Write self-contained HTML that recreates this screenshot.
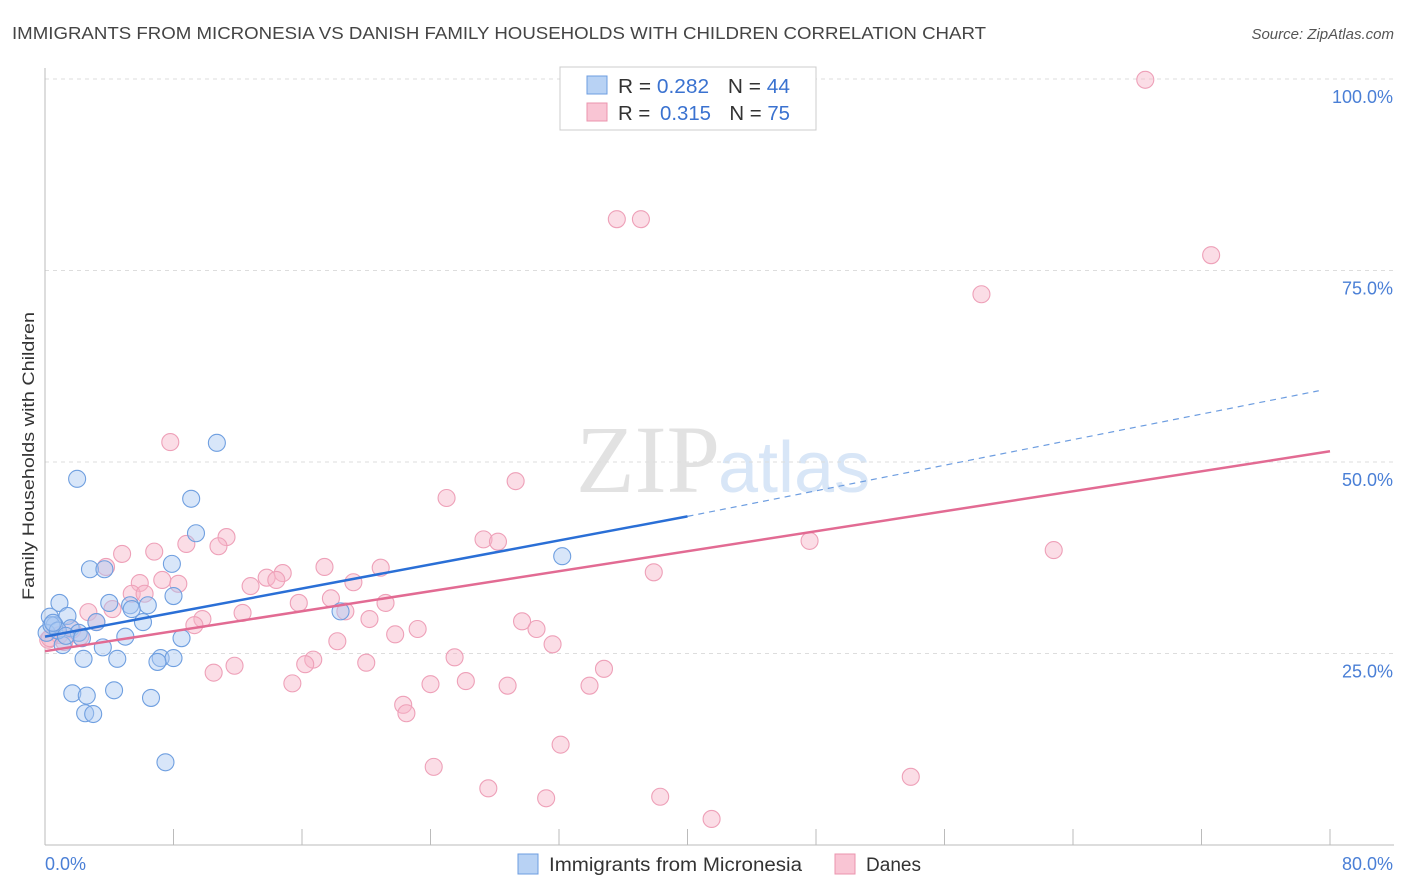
<!DOCTYPE html>
<html><head><meta charset="utf-8"><style>
body{margin:0;background:#fff;font-family:"Liberation Sans",sans-serif;}
svg{display:block}
</style></head><body>
<svg id="c" width="1406" height="892">
<text x="12" y="39" font-size="17.5" fill="#444" textLength="974" lengthAdjust="spacingAndGlyphs">IMMIGRANTS FROM MICRONESIA VS DANISH FAMILY HOUSEHOLDS WITH CHILDREN CORRELATION CHART</text>
<text x="1394" y="39" font-size="15" fill="#555" font-style="italic" text-anchor="end">Source: ZipAtlas.com</text>
<text x="0" y="0" transform="translate(34,456) rotate(-90)" font-size="17" fill="#333" text-anchor="middle" textLength="288" lengthAdjust="spacingAndGlyphs">Family Households with Children</text>
<text x="720" y="492" font-size="96" fill="#e2e2e2" font-family="Liberation Serif,serif" text-anchor="end">ZIP</text>
<text x="718" y="492" font-size="72" fill="#d8e6f7">atlas</text>
<g id="grid"></g><g id="axes"></g><g id="pts"></g><g id="lines"></g>
<g>
<rect x="560" y="67" width="256" height="63" fill="#fff" stroke="#ccc"/>
<rect x="587" y="76" width="20" height="18" fill="#b8d2f4" stroke="#6d9de0"/>
<rect x="587" y="103" width="20" height="18" fill="#f9c5d4" stroke="#eb94ae"/>
<text x="618" y="93" font-size="20" fill="#333" textLength="172" lengthAdjust="spacingAndGlyphs">R = <tspan fill="#3a72d0">0.282</tspan><tspan dx="18">N = </tspan><tspan fill="#3a72d0">44</tspan></text>
<text x="618" y="120" font-size="20" fill="#333" textLength="172" lengthAdjust="spacingAndGlyphs">R = <tspan fill="#3a72d0" dx="4">0.315</tspan><tspan dx="18">N = </tspan><tspan fill="#3a72d0">75</tspan></text>
</g>
<g>
<rect x="518" y="854" width="20" height="20" fill="#b8d2f4" stroke="#6d9de0"/>
<text x="549" y="871" font-size="19" fill="#333" textLength="253" lengthAdjust="spacingAndGlyphs">Immigrants from Micronesia</text>
<rect x="835" y="854" width="20" height="20" fill="#f9c5d4" stroke="#eb94ae"/>
<text x="866" y="871" font-size="19" fill="#333" textLength="55" lengthAdjust="spacingAndGlyphs">Danes</text>
</g>
</svg>
<script>
const blueX=[2.0,10.7,9.1,9.4,2.8,3.7,7.9,8.0,0.9,4.0,5.3,6.4,0.3,1.4,3.2,6.1,0.6,1.6,2.1,0.1,1.1,5.0,8.5,3.6,2.4,4.5,7.2,8.0,7.0,1.7,2.6,4.3,6.6,2.5,3.0,7.5,18.4,32.2,0.4,0.8,1.3,2.3,5.4,0.5];
const blueY=[47.8,52.5,45.2,40.7,36.0,36.0,36.7,32.5,31.6,31.6,31.3,31.3,29.8,29.9,29.1,29.1,28.7,28.3,27.7,27.7,26.1,27.2,27.0,25.8,24.3,24.3,24.4,24.4,23.9,19.8,19.5,20.2,19.2,17.2,17.1,10.8,30.5,37.7,28.7,28.0,27.3,27.0,30.8,29.0];
const pinkX=[68.5,35.6,37.1,72.6,58.3,7.8,25.0,29.3,11.3,8.8,10.8,27.3,28.2,47.6,62.8,4.8,6.8,3.8,17.4,20.9,14.8,13.8,37.9,7.3,5.9,8.3,12.8,14.4,19.2,5.4,6.2,15.8,21.2,17.8,18.7,4.2,2.7,12.3,20.2,29.7,9.8,9.3,3.2,23.2,21.8,30.6,1.7,0.2,18.2,31.6,25.5,16.7,16.2,20.0,11.8,34.8,10.5,15.4,24.0,26.2,28.8,33.9,22.3,22.5,32.1,24.2,53.9,27.6,31.2,38.3,41.5,2.2,0.9,1.2,0.3];
const pinkY=[99.9,81.7,81.7,77.0,71.9,52.6,45.3,47.5,40.2,39.3,39.0,39.9,39.6,39.7,38.5,38.0,38.3,36.3,36.3,36.2,35.5,34.9,35.6,34.6,34.2,34.1,33.8,34.6,34.3,32.8,32.8,31.6,31.6,32.2,30.5,30.8,30.4,30.3,29.5,29.2,29.5,28.7,29.1,28.2,27.5,28.2,28.1,26.8,26.6,26.2,24.5,24.2,23.6,23.8,23.4,23.0,22.5,21.1,21.0,21.4,20.8,20.8,18.3,17.2,13.1,10.2,8.9,7.4,6.1,6.3,3.4,27.2,27.4,26.5,27.0];
const blueTrendX=[0,40,79.3];
const blueTrendY=[27.2,42.9,59.3];
const pinkTrendX=[0,80];
const pinkTrendY=[25.3,51.4];
const yTicks=[25,50,75,100];
const yTickLabels=["25.0%","50.0%","75.0%","100.0%"];
const xTicks=[0,8,16,24,32,40,48,56,64,72,80];

const NS="http://www.w3.org/2000/svg";
const sx=v=>45+v/80*1285, sy=v=>845-v/100*766;
function mk(t,a,p){const e=document.createElementNS(NS,t);for(const k in a)e.setAttribute(k,a[k]);p.appendChild(e);return e;}
const grid=document.getElementById('grid'),axes=document.getElementById('axes'),pts=document.getElementById('pts'),lines=document.getElementById('lines');
yTicks.forEach((v,i)=>{
 const g=mk('line',{x1:45,x2:1394,y1:sy(v),y2:sy(v),stroke:'#ddd','stroke-dasharray':'4,4'},grid);
 
 
 const t=mk('text',{x:1393,y:sy(v)+24,'font-size':18,fill:'#4a7fd6','text-anchor':'end'},axes);
 t.textContent=yTickLabels[i];
 
 
});
const ax=mk('line',{x1:45,x2:45,y1:68,y2:845,stroke:'#bbb'},axes);


const bx=mk('line',{x1:45,x2:1394,y1:845,y2:845,stroke:'#bbb'},axes);


xTicks.forEach(v=>{
 const t=mk('line',{x1:sx(v),x2:sx(v),y1:829,y2:845,stroke:'#bbb'},axes);
 
 
});
[["0.0%",45,'start'],["80.0%",1393,'end']].forEach(([s,x,a])=>{
 const t=mk('text',{x:x,y:870,'font-size':18,fill:'#4a7fd6','text-anchor':a},axes);t.textContent=s;
 
 
});
function dots(X,Y,fill,stroke,name){X.forEach((x,i)=>{
 const c=mk('circle',{cx:sx(x),cy:sy(Y[i]),r:8.5,fill:fill,'fill-opacity':0.45,stroke:stroke,'stroke-width':1.1},pts);
 
 
});}
dots(pinkX,pinkY,'#f7b3c7','#eea0b8','danes-point');
dots(blueX,blueY,'#a8c8f2','#6f9fe0','micronesia-point');
const b1=mk('line',{x1:sx(blueTrendX[0]),y1:sy(blueTrendY[0]),x2:sx(blueTrendX[1]),y2:sy(blueTrendY[1]),stroke:'#2a6fd6','stroke-width':2.5},lines);


const b2=mk('line',{x1:sx(blueTrendX[1]),y1:sy(blueTrendY[1]),x2:sx(blueTrendX[2]),y2:sy(blueTrendY[2]),stroke:'#6d9de0','stroke-width':1.2,'stroke-dasharray':'6,5'},lines);


const p1=mk('line',{x1:sx(pinkTrendX[0]),y1:sy(pinkTrendY[0]),x2:sx(pinkTrendX[1]),y2:sy(pinkTrendY[1]),stroke:'#e26b93','stroke-width':2.5},lines);


</script>
</body></html>
